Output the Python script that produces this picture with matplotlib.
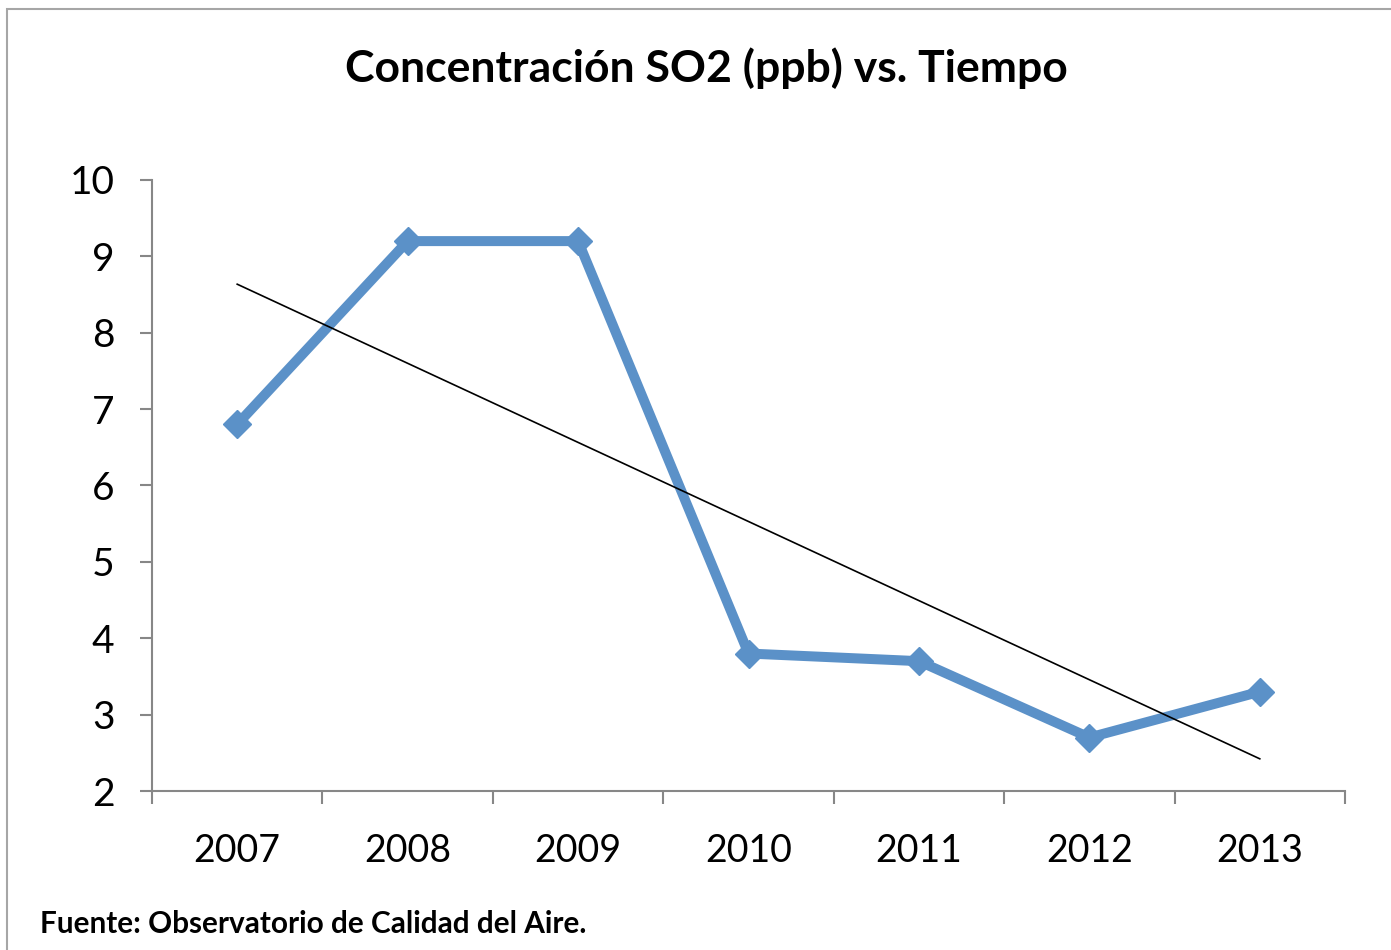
import numpy as np
import matplotlib
matplotlib.use("Agg")
import matplotlib.pyplot as plt
from matplotlib.patches import Rectangle

years = ["2007", "2008", "2009", "2010", "2011", "2012", "2013"]
so2 = [6.8, 9.2, 9.2, 3.8, 3.7, 2.7, 3.3]
yticks = [2, 3, 4, 5, 6, 7, 8, 9, 10]

title = "Concentración SO2 (ppb) vs. Tiempo"
source = "Fuente: Observatorio de Calidad del Aire."

plt.rcParams['font.family'] = ['Lato', 'DejaVu Sans']

fig = plt.figure(figsize=(13.91, 9.5), dpi=100)
ax = fig.add_axes([152/1391, 1-791/950, (1345-152)/1391, (791-180)/950])

x = np.arange(len(years))
color = '#5B91C8'
ax.plot(x, so2, color=color, lw=7.2, marker='D', ms=14, mec=color, mfc=color,
        solid_joinstyle='miter', zorder=3)

# linear trend line
coef = np.polyfit(x, so2, 1)
ax.plot(x, np.polyval(coef, x), color='black', lw=1.2, zorder=4)

ax.set_xlim(-0.5, len(years) - 0.5)
ax.set_ylim(2, 10)
ax.set_yticks(yticks)
ax.set_yticklabels([str(v) for v in yticks])
ax.set_xticks(x)
ax.set_xticklabels(years)
ax.set_xticks(np.arange(-0.5, len(years)), minor=True)

gray = '#878787'
for s in ['top', 'right']:
    ax.spines[s].set_visible(False)
for s in ['left', 'bottom']:
    ax.spines[s].set_color(gray)
    ax.spines[s].set_linewidth(1.5)

ax.tick_params(axis='x', which='major', length=0, pad=30, labelsize=27)
ax.tick_params(axis='x', which='minor', length=9, width=1.5, color=gray, direction='out')
ax.tick_params(axis='y', which='major', length=9, width=1.5, color=gray,
               direction='out', pad=18, labelsize=28)

fig.text(706/1391, 1-68/950, title, ha='center', va='center',
         fontsize=32, fontweight='bold')
fig.text(40/1391, 1-924/950, source, ha='left', va='center',
         fontsize=21.4, fontweight='bold')

fig.patches.append(Rectangle((7/1391, -0.1), 1.2, 1 - 9/950 + 0.1,
                             transform=fig.transFigure, fill=False,
                             edgecolor='#A6A6A6', lw=1.5, figure=fig))

fig.savefig("out.png", dpi=100)
